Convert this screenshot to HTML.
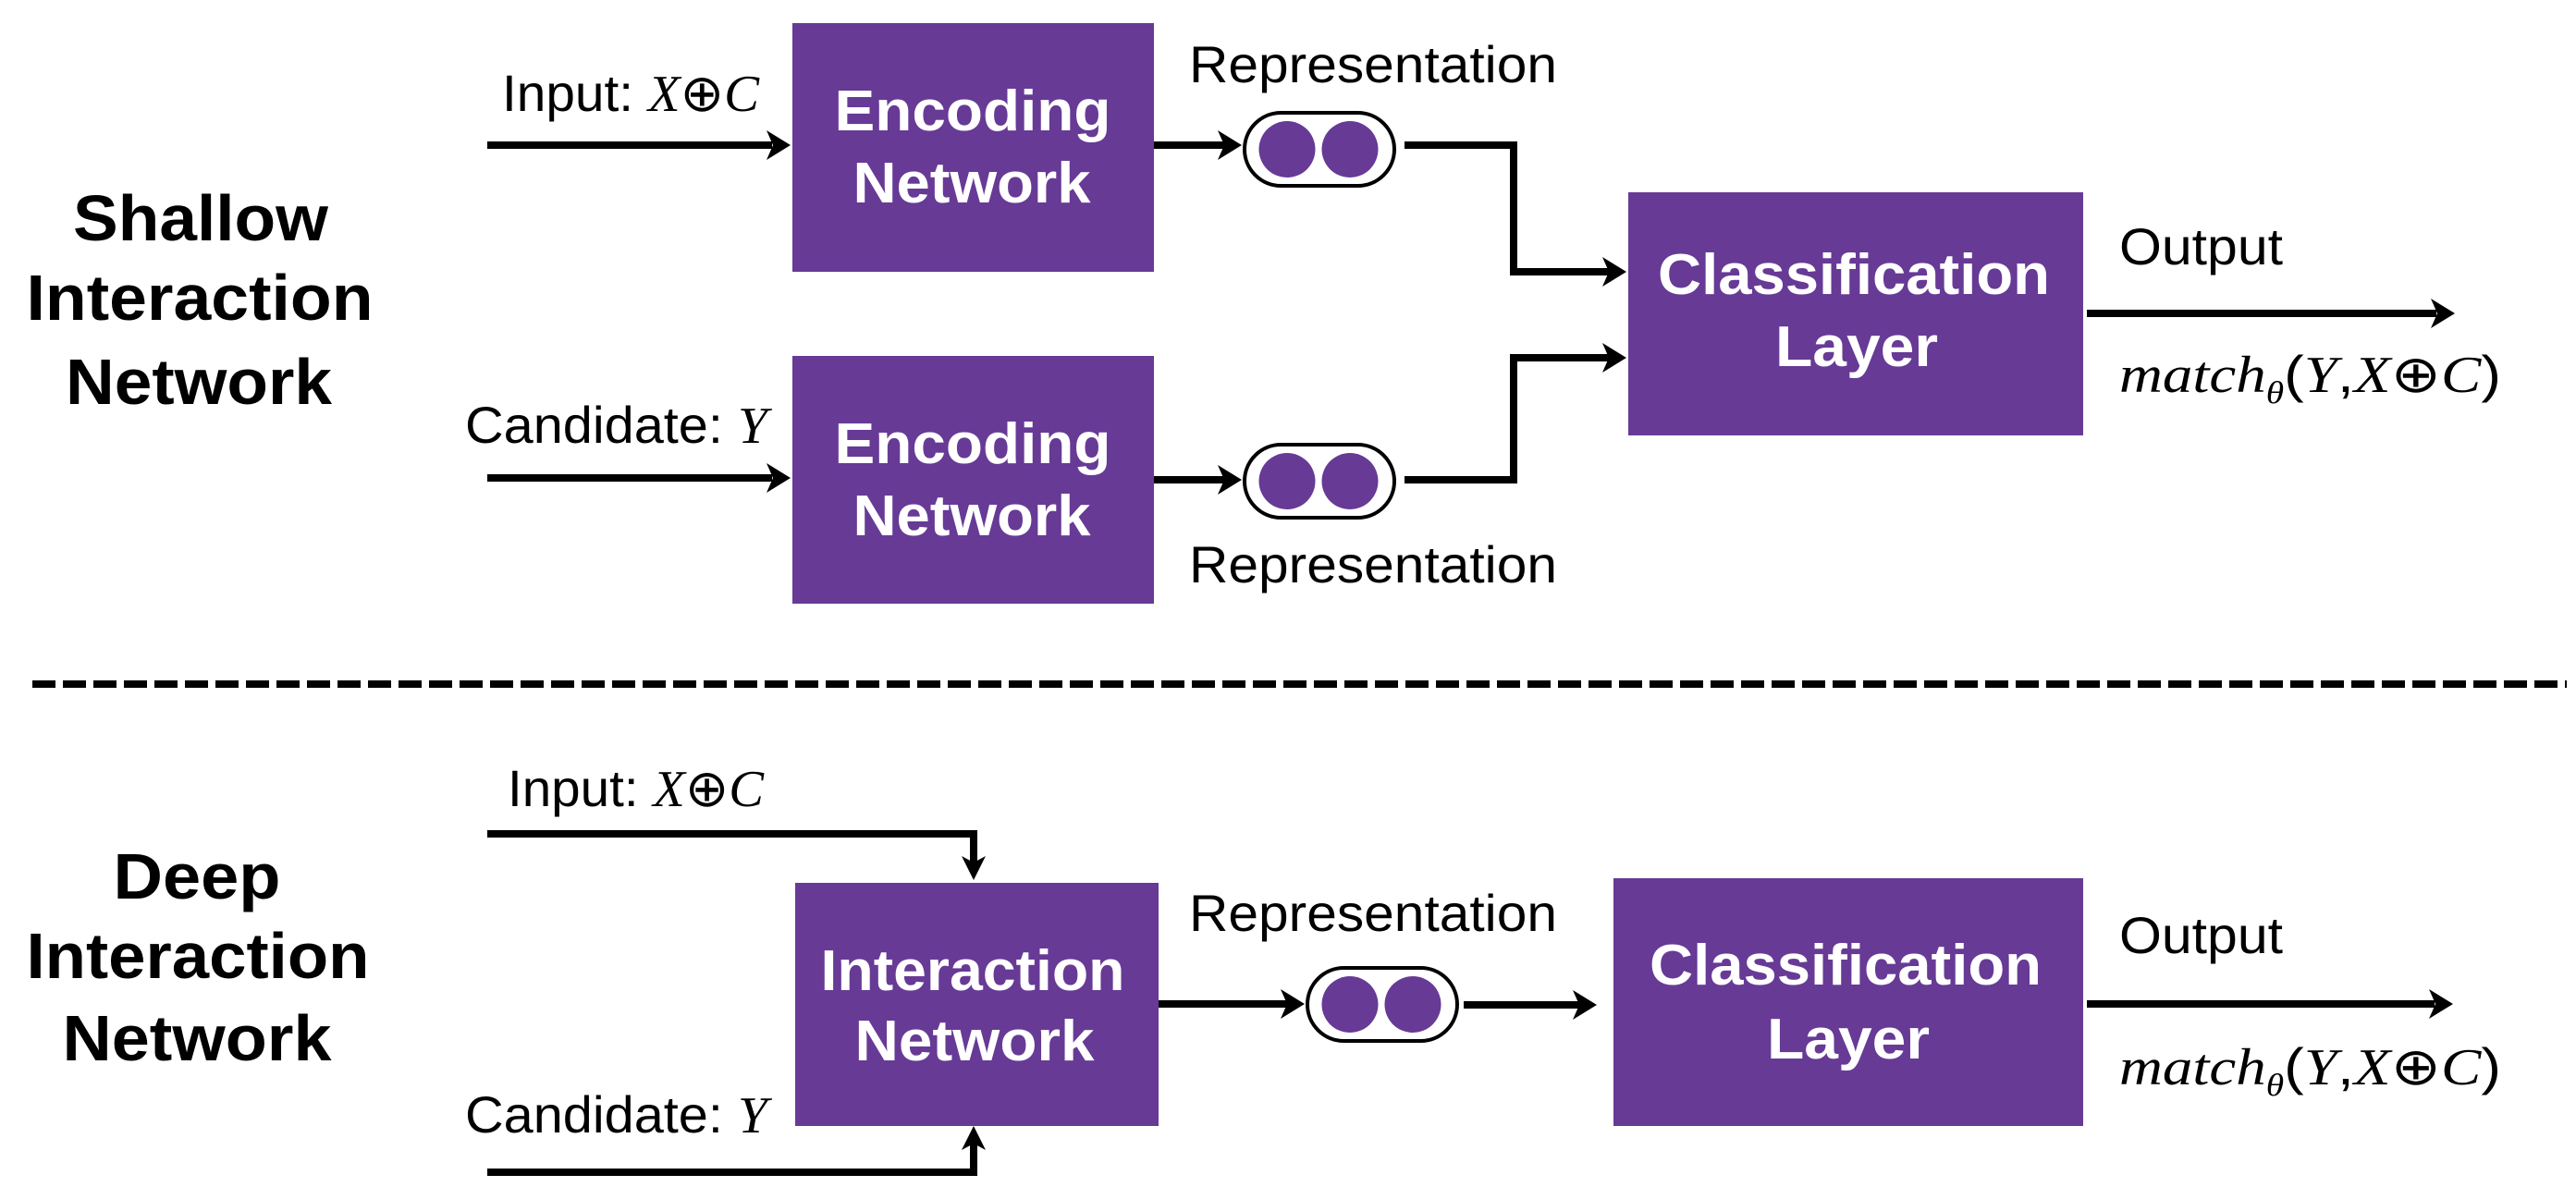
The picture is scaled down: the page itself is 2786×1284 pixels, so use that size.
<!DOCTYPE html>
<html><head><meta charset="utf-8"><style>
html,body{margin:0;padding:0;background:#fff;}
svg{display:block;}
.t{font-family:"Liberation Sans",Arial,sans-serif;font-size:56px;fill:#000;}
.m{font-family:"Liberation Serif",serif;font-style:italic;}
.b{font-family:"Liberation Sans",Arial,sans-serif;font-weight:bold;font-size:70px;fill:#000;text-anchor:middle;}
.w{font-family:"Liberation Sans",Arial,sans-serif;font-weight:bold;font-size:62px;fill:#fff;text-anchor:middle;}
</style></head><body>
<svg width="2786" height="1284" viewBox="0 0 2786 1284" xmlns="http://www.w3.org/2000/svg">
<defs>
<g id="pill">
<rect x="0" y="0" width="162" height="79" rx="39.5" fill="#fff" stroke="#000" stroke-width="4"/>
<circle cx="46" cy="39.5" r="30.5" fill="#673a96"/>
<circle cx="114" cy="39.5" r="30.5" fill="#673a96"/>
</g>
</defs>
<g stroke="#000" stroke-width="8" fill="none">
<!-- top -->
<line x1="527" y1="157" x2="835" y2="157"/>
<line x1="527" y1="517" x2="835" y2="517"/>
<line x1="1248" y1="157" x2="1325" y2="157"/>
<line x1="1248" y1="519" x2="1325" y2="519"/>
<polyline points="1519,157 1637,157 1637,294 1740,294"/>
<polyline points="1519,519 1637,519 1637,387 1740,387"/>
<line x1="2257" y1="339" x2="2635" y2="339"/>
<!-- bottom -->
<polyline points="527,902 1053,902 1053,935"/>
<polyline points="527,1268 1053,1268 1053,1236"/>
<line x1="1253" y1="1086" x2="1395" y2="1086"/>
<line x1="1583" y1="1087" x2="1708" y2="1087"/>
<line x1="2257" y1="1086" x2="2633" y2="1086"/>
<line x1="35" y1="740" x2="2776" y2="740" stroke-dasharray="25 8"/>
</g>
<g fill="#000">
<path d="M855,157 l-26,-16 l7,16 l-7,16z"/>
<path d="M855,517 l-26,-16 l7,16 l-7,16z"/>
<path d="M1343,157 l-26,-16 l7,16 l-7,16z"/>
<path d="M1343,519 l-26,-16 l7,16 l-7,16z"/>
<path d="M1759,294 l-26,-16 l7,16 l-7,16z"/>
<path d="M1759,387 l-26,-16 l7,16 l-7,16z"/>
<path d="M2655,339 l-26,-16 l7,16 l-7,16z"/>
<path d="M1053,952 l-13,-26 l13,7 l13,-7z"/>
<path d="M1053,1218 l-13,26 l13,-7 l13,7z"/>
<path d="M1411,1086 l-26,-16 l7,16 l-7,16z"/>
<path d="M1727,1087 l-26,-16 l7,16 l-7,16z"/>
<path d="M2653,1086 l-26,-16 l7,16 l-7,16z"/>
</g>
<g fill="#673a96">
<rect x="857" y="25" width="391" height="269"/>
<rect x="857" y="385" width="391" height="268"/>
<rect x="1761" y="208" width="492" height="263"/>
<rect x="860" y="955" width="393" height="263"/>
<rect x="1745" y="950" width="508" height="268"/>
</g>
<use href="#pill" x="1346" y="122"/>
<use href="#pill" x="1346" y="481"/>
<use href="#pill" x="1414" y="1047"/>
<!-- white labels -->
<text class="w" x="1052" y="141" textLength="299" lengthAdjust="spacingAndGlyphs">Encoding</text>
<text class="w" x="1051" y="219" textLength="257" lengthAdjust="spacingAndGlyphs">Network</text>
<text class="w" x="1052" y="501" textLength="299" lengthAdjust="spacingAndGlyphs">Encoding</text>
<text class="w" x="1051" y="579" textLength="257" lengthAdjust="spacingAndGlyphs">Network</text>
<text class="w" x="2005" y="318" textLength="424" lengthAdjust="spacingAndGlyphs">Classification</text>
<text class="w" x="2008" y="396" textLength="176" lengthAdjust="spacingAndGlyphs">Layer</text>
<text class="w" x="1052" y="1071" textLength="329" lengthAdjust="spacingAndGlyphs">Interaction</text>
<text class="w" x="1054" y="1147" textLength="259" lengthAdjust="spacingAndGlyphs">Network</text>
<text class="w" x="1996" y="1065" textLength="424" lengthAdjust="spacingAndGlyphs">Classification</text>
<text class="w" x="1999" y="1145" textLength="176" lengthAdjust="spacingAndGlyphs">Layer</text>
<!-- titles -->
<text class="b" x="217" y="260" textLength="276" lengthAdjust="spacingAndGlyphs">Shallow</text>
<text class="b" x="216" y="346" textLength="375" lengthAdjust="spacingAndGlyphs">Interaction</text>
<text class="b" x="215" y="437" textLength="288" lengthAdjust="spacingAndGlyphs">Network</text>
<text class="b" x="213" y="972" textLength="181" lengthAdjust="spacingAndGlyphs">Deep</text>
<text class="b" x="214" y="1058" textLength="371" lengthAdjust="spacingAndGlyphs">Interaction</text>
<text class="b" x="213" y="1147" textLength="291" lengthAdjust="spacingAndGlyphs">Network</text>
<!-- labels -->
<text class="t" x="543" y="120" textLength="278" lengthAdjust="spacingAndGlyphs">Input: <tspan class="m">X</tspan>⊕<tspan class="m">C</tspan></text>
<text class="t" x="503" y="479" textLength="327" lengthAdjust="spacingAndGlyphs">Candidate: <tspan class="m">Y</tspan></text>
<text class="t" x="1286" y="89" textLength="398" lengthAdjust="spacingAndGlyphs">Representation</text>
<text class="t" x="1286" y="630" textLength="398" lengthAdjust="spacingAndGlyphs">Representation</text>
<text class="t" x="2292" y="286" textLength="177" lengthAdjust="spacingAndGlyphs">Output</text>
<text class="t" x="2292" y="424" textLength="413" lengthAdjust="spacingAndGlyphs"><tspan class="m">match</tspan><tspan class="m" font-size="34" dy="12">θ</tspan><tspan dy="-12">(</tspan><tspan class="m">Y</tspan>,<tspan class="m">X</tspan>⊕<tspan class="m">C</tspan>)</text>
<text class="t" x="549" y="872" textLength="277" lengthAdjust="spacingAndGlyphs">Input: <tspan class="m">X</tspan>⊕<tspan class="m">C</tspan></text>
<text class="t" x="503" y="1225" textLength="327" lengthAdjust="spacingAndGlyphs">Candidate: <tspan class="m">Y</tspan></text>
<text class="t" x="1286" y="1007" textLength="398" lengthAdjust="spacingAndGlyphs">Representation</text>
<text class="t" x="2292" y="1031" textLength="177" lengthAdjust="spacingAndGlyphs">Output</text>
<text class="t" x="2292" y="1173" textLength="413" lengthAdjust="spacingAndGlyphs"><tspan class="m">match</tspan><tspan class="m" font-size="34" dy="12">θ</tspan><tspan dy="-12">(</tspan><tspan class="m">Y</tspan>,<tspan class="m">X</tspan>⊕<tspan class="m">C</tspan>)</text>
</svg>
</body></html>
